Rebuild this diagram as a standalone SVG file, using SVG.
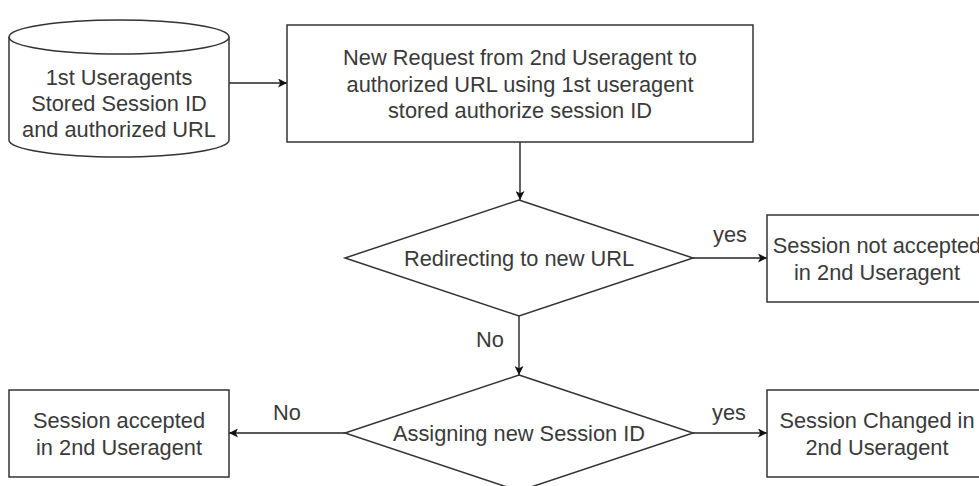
<svg xmlns="http://www.w3.org/2000/svg" width="979" height="486" viewBox="0 0 979 486">
  <style>
    .shape { fill: #ffffff; stroke: #333333; stroke-width: 1.5; }
    .edge { fill: none; stroke: #222222; stroke-width: 1.4; }
    .label { font-family: "Liberation Sans", Arial, sans-serif; font-size: 21.8px; fill: #3a3a3a; text-anchor: middle; }
  </style>
  <defs>
    <marker id="arrow" viewBox="0 0 10 10" refX="10" refY="5" markerWidth="9" markerHeight="9" markerUnits="userSpaceOnUse" orient="auto">
      <path d="M0,0 L10,5 L0,10 L2.5,5 Z" fill="#111111"/>
    </marker>
  </defs>
  <rect width="979" height="486" fill="#ffffff"/>

  <g id="connectors">
    <line class="edge" x1="229" y1="83" x2="287" y2="83" marker-end="url(#arrow)"/>
    <line class="edge" x1="520" y1="142" x2="520" y2="200" marker-end="url(#arrow)"/>
    <line class="edge" x1="693" y1="258" x2="767" y2="258" marker-end="url(#arrow)"/>
    <line class="edge" x1="519" y1="316" x2="519" y2="375" marker-end="url(#arrow)"/>
    <line class="edge" x1="345" y1="433" x2="229" y2="433" marker-end="url(#arrow)"/>
    <line class="edge" x1="693" y1="433" x2="767" y2="433" marker-end="url(#arrow)"/>
    <text class="label" x="730" y="242">yes</text>
    <text class="label" x="490" y="347">No</text>
    <text class="label" x="287" y="420">No</text>
    <text class="label" x="729" y="420">yes</text>
  </g>

  <g id="store">
    <path class="shape" d="M9,37 A110,17 0 0 1 229,37 L229,140 A110,17 0 0 1 9,140 Z"/>
    <path class="shape" fill="none" d="M9,37 A110,17 0 0 0 229,37"/>
    <text class="label" x="119" y="85">1st Useragents</text>
    <text class="label" x="119" y="111">Stored Session ID</text>
    <text class="label" x="119" y="137">and authorized URL</text>
  </g>

  <g id="request">
    <rect class="shape" x="287" y="25" width="466" height="117"/>
    <text class="label" x="520" y="65">New Request from 2nd Useragent to</text>
    <text class="label" x="520" y="92">authorized URL using 1st useragent</text>
    <text class="label" x="520" y="118">stored authorize session ID</text>
  </g>

  <g id="redirect">
    <polygon class="shape" points="519,200 693,258 519,316 345,258"/>
    <text class="label" x="519" y="266">Redirecting to new URL</text>
  </g>

  <g id="not-accepted">
    <rect class="shape" x="767" y="215" width="220" height="87"/>
    <text class="label" x="877" y="253">Session not accepted</text>
    <text class="label" x="877" y="280">in 2nd Useragent</text>
  </g>

  <g id="assign">
    <polygon class="shape" points="519,375 693,433 519,491 345,433"/>
    <text class="label" x="519" y="441">Assigning new Session ID</text>
  </g>

  <g id="accepted">
    <rect class="shape" x="9" y="390" width="220" height="87"/>
    <text class="label" x="119" y="428">Session accepted</text>
    <text class="label" x="119" y="455">in 2nd Useragent</text>
  </g>

  <g id="changed">
    <rect class="shape" x="767" y="390" width="220" height="87"/>
    <text class="label" x="877" y="428">Session Changed in</text>
    <text class="label" x="877" y="455">2nd Useragent</text>
  </g>
</svg>
